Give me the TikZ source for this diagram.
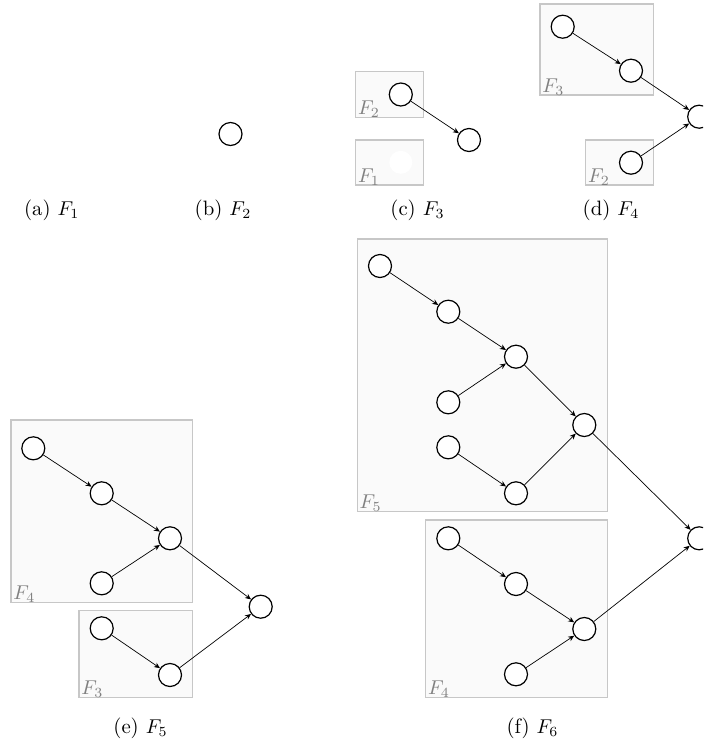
\documentclass[tikz,border=0pt]{standalone}
\usetikzlibrary{arrows.meta,fit}
\begin{document}
\begin{tikzpicture}[x=0.5pt,y=-0.5pt,
  vtx/.style={circle, draw, line width=0.6pt, minimum size=11.5pt, inner sep=0pt, fill=white},
  ghost/.style={circle, minimum size=11.5pt, inner sep=0pt, fill=white},
  edge/.style={-{Stealth[length=3pt,width=2.6pt]}, line width=0.35pt},
  frame/.style={draw=black!22, fill=black!2, line width=0.6pt, inner sep=0pt},
  flabel/.style={anchor=base west, inner sep=0pt, xshift=1.3pt, yshift=1.8pt, text=black!50, font=\fontsize{10.2}{12}\selectfont},
  captext/.style={anchor=base, font=\fontsize{10.4}{12}\selectfont}]
\useasboundingbox (0,0) rectangle (703,751);
\begin{scope}
\clip (0,0) rectangle (703,751);
% frames
\node[frame, fit={(355.7,71.7) (423.3,117.3)}] (cB2) {};
\node[frame, fit={(355.7,140) (423.3,185)}] (cB1) {};
\node[frame, fit={(540,4) (653.3,95)}] (dB3) {};
\node[frame, fit={(585.7,140) (653.3,185)}] (dB2) {};
\node[frame, fit={(11,420) (192.7,602.3)}] (eB4) {};
\node[frame, fit={(79,610.7) (192.7,697.3)}] (eB3) {};
\node[frame, fit={(357.3,239) (607.3,511.7)}] (fB5) {};
\node[frame, fit={(425.7,520) (607.3,697.3)}] (fB4) {};
\node[flabel] (lc2) at (cB2.south west) {$F_2$};
\node[flabel] (lc1) at (cB1.south west) {$F_1$};
\node[flabel] (ld3) at (dB3.south west) {$F_3$};
\node[flabel] (ld2) at (dB2.south west) {$F_2$};
\node[flabel] (le4) at (eB4.south west) {$F_4$};
\node[flabel] (le3) at (eB3.south west) {$F_3$};
\node[flabel] (lf5) at (fB5.south west) {$F_5$};
\node[flabel] (lf4) at (fB4.south west) {$F_4$};
% (b)
\node[vtx] (b1) at (230.5,134) {};
% (c)
\node[vtx] (c1) at (400.8,94.5) {};
\node[vtx] (c2) at (469,140) {};
\node[ghost] (c0) at (400.8,162.3) {};
% (d)
\node[vtx] (d1) at (562.7,26.7) {};
\node[vtx] (d2) at (631,70.7) {};
\node[vtx] (d3) at (699.2,116.7) {};
\node[vtx] (d4) at (631,162.7) {};
% (e)
\node[vtx] (e1) at (33.3,448.3) {};
\node[vtx] (e2) at (101.7,493.3) {};
\node[vtx] (e3) at (170,538.3) {};
\node[vtx] (e4) at (101.7,583.3) {};
\node[vtx] (e5) at (260.7,606.7) {};
\node[vtx] (e6) at (101.7,628.3) {};
\node[vtx] (e7) at (170,675) {};
% (f)
\node[vtx] (f1) at (380,266) {};
\node[vtx] (f2) at (448.3,311.7) {};
\node[vtx] (f3) at (516,356.7) {};
\node[vtx] (f4) at (448.3,402.3) {};
\node[vtx] (f5) at (448.3,447.3) {};
\node[vtx] (f6) at (516,493.3) {};
\node[vtx] (f7) at (584.3,425) {};
\node[vtx] (f8) at (699.2,538.3) {};
\node[vtx] (g1) at (448.3,538.3) {};
\node[vtx] (g2) at (516,584) {};
\node[vtx] (g3) at (584.3,629) {};
\node[vtx] (g4) at (516,674.3) {};
% edges
\draw[edge] (c1) -- (c2);
\draw[edge] (d1) -- (d2);
\draw[edge] (d2) -- (d3);
\draw[edge] (d4) -- (d3);
\draw[edge] (e1) -- (e2);
\draw[edge] (e2) -- (e3);
\draw[edge] (e4) -- (e3);
\draw[edge] (e3) -- (e5);
\draw[edge] (e6) -- (e7);
\draw[edge] (e7) -- (e5);
\draw[edge] (f1) -- (f2);
\draw[edge] (f2) -- (f3);
\draw[edge] (f4) -- (f3);
\draw[edge] (f3) -- (f7);
\draw[edge] (f5) -- (f6);
\draw[edge] (f6) -- (f7);
\draw[edge] (f7) -- (f8);
\draw[edge] (g1) -- (g2);
\draw[edge] (g2) -- (g3);
\draw[edge] (g4) -- (g3);
\draw[edge] (g3) -- (f8);
\end{scope}
% captions
\node[captext] (ca) at (51.7,215.5) {(a) $F_1$};
\node[captext] (cb) at (223,215.5) {(b) $F_2$};
\node[captext] (cc) at (417.5,215.5) {(c) $F_3$};
\node[captext] (cd) at (611,215.5) {(d) $F_4$};
\node[captext] (ce) at (140.5,733) {(e) $F_5$};
\node[captext] (cf) at (532.5,733) {(f) $F_6$};
\end{tikzpicture}
\end{document}
